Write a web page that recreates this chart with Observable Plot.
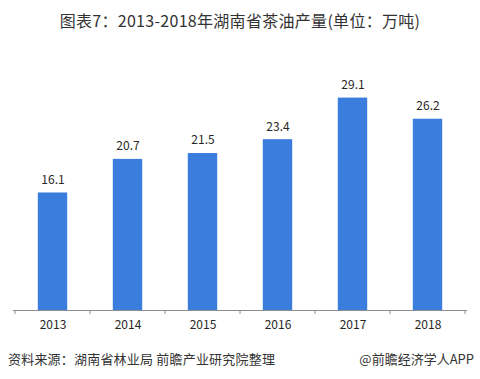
<!DOCTYPE html>
<html><head><meta charset="utf-8">
<script src="https://cdn.jsdelivr.net/npm/d3@7"></script>
<script src="https://cdn.jsdelivr.net/npm/@observablehq/plot@0.6"></script>
<style>
body{margin:0;background:#fff;font-family:"Noto Sans CJK SC","Noto Sans",sans-serif;}
#wrap{width:480px;height:379px;position:relative;overflow:hidden;}
#title{height:40px;line-height:40px;text-align:center;font-size:16px;font-weight:400;letter-spacing:0.3px;color:#333;}
#footer{position:absolute;left:0;top:340px;width:480px;height:38px;line-height:38px;font-size:13px;color:#333;}
#footer .l{position:absolute;left:8px;letter-spacing:0.2px;}
#footer .r{position:absolute;right:6px;}
</style></head>
<body><div id="wrap">
<div id="title">图表7：2013-2018年湖南省茶油产量(单位：万吨)</div>
<div id="chart"></div>
<div id="footer"><span class="l">资料来源：湖南省林业局 前瞻产业研究院整理</span><span class="r">@前瞻经济学人APP</span></div>
</div>
<script>
const years = ["2013","2014","2015","2016","2017","2018"];
const output = [16.1, 20.7, 21.5, 23.4, 29.1, 26.2];
const data = years.map((y,i)=>({year:y, value:output[i]}));

const edgeTicks = (index, scales, values, dims) => {
  const g = d3.create("svg:g");
  const x = scales.x, y0 = scales.y(0), bw = x.bandwidth();
  const edges = years.map(y => x(y)).concat([x(years[years.length-1]) + bw]);
  for (const e of edges) {
    g.append("line").attr("x1", e).attr("x2", e).attr("y1", y0).attr("y2", y0 + 4)
      .attr("stroke", "#8c8c8c").attr("stroke-width", 1);
  }
  return g.node();
};

const chart = Plot.plot({
  width: 480, height: 300,
  marginLeft: 13, marginRight: 13, marginTop: 51, marginBottom: 30,
  style: {fontFamily: '"Noto Sans CJK SC","Noto Sans",sans-serif', fontSize: "12px", color: "#262626"},
  x: {domain: years, padding: 0, label: null},
  y: {domain: [0, 30], axis: null},
  marks: [
    Plot.barY(data, {x: "year", y: "value", fill: "#3b7ddd", insetLeft: 22.8, insetRight: 22.8}),
    Plot.text(data, {x: "year", y: "value", text: d => d.value.toFixed(1), dy: -13, fontSize: 12, fill: "#262626"}),
    Plot.ruleY([0], {stroke: "#8c8c8c"}),
    edgeTicks,
    Plot.axisX({tickSize: 0, tickPadding: 10, fontSize: 12, fill: "#262626", label: null})
  ]
});
document.getElementById("chart").appendChild(chart);
</script>
</body></html>
